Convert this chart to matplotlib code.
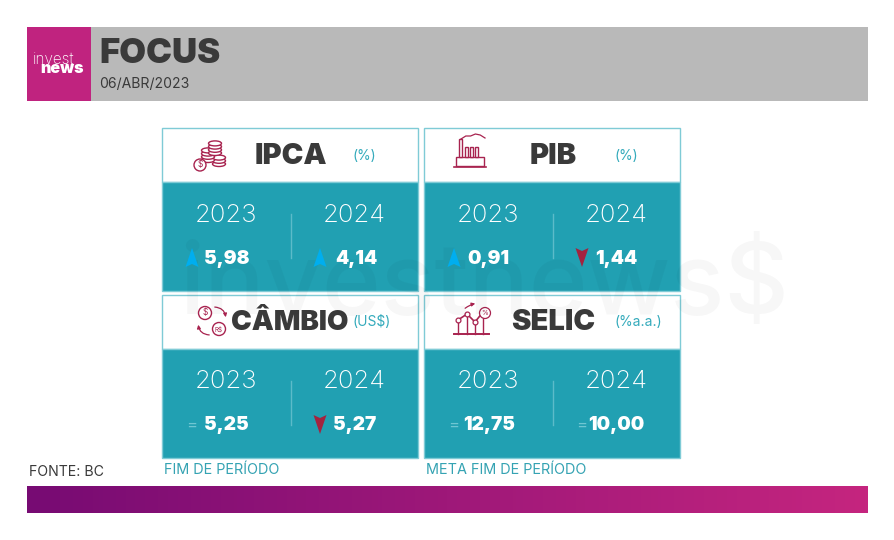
import numpy as np
import matplotlib
matplotlib.use("Agg")
import matplotlib.pyplot as plt
from matplotlib.colors import LinearSegmentedColormap
from matplotlib.patches import Rectangle, Polygon, Circle, Ellipse, FancyArrowPatch

titles = ["IPCA", "PIB", "CÂMBIO", "SELIC"]
units = ["(%)", "(%)", "(US$)", "(%a.a.)"]
years = ["2023", "2024"]
values = [["5,98", "4,14"], ["0,91", "1,44"], ["5,25", "5,27"], ["12,75", "10,00"]]
trends = [["up", "up"], ["up", "down"], ["same", "down"], ["same", "same"]]
notes = ["FIM DE PERÍODO", "META FIM DE PERÍODO"]

TEAL = "#21A0B2"
EDGE = "#7FCBD6"
WINE = "#A8234F"
DARK = "#3A3A3A"
FONT = "Inter"

# card layout: left, top, title x, title size, unit x, icon x, trend x, value x
cards = [
    (162, 128, 291, 21, 364, 209, (192, 320), (204, 335)),
    (424, 128, 553, 21, 626, 470, (454, 582), (467, 595)),
    (162, 295, 290, 20, 372, 212, (192, 320), (204, 333)),
    (424, 295, 553, 21, 638, 472, (454, 582), (463, 588)),
]
CARD_W, CARD_H, HEAD_H = 256.5, 163, 54

fig = plt.figure(figsize=(8.95, 5.4), dpi=100)
ax = fig.add_axes([0, 0, 1, 1])


def coins(x, y):
    y += 3
    for cx, cy, n in [(x + 10, y + 7, 3), (x - 1, y + 3, 4), (x + 6, y - 4, 4)]:
        for i in range(n):
            ax.add_patch(Ellipse((cx, cy - i * 3.2), 13, 5, fc="white", ec=WINE, lw=1, zorder=3))
    ax.add_patch(Circle((x - 9, y + 8), 6, fc="white", ec=WINE, lw=1, zorder=4))
    ax.text(x - 9, y + 8, "$", color=WINE, fontsize=6, ha="center", va="center", family=FONT, zorder=5)


def factory(x, y):
    ax.add_patch(Rectangle((x - 14, y + 3), 28, 9, fc="white", ec=WINE, lw=1, zorder=3))
    ax.plot([x - 16, x + 16], [y + 12.5, y + 12.5], color=WINE, lw=1.2, zorder=4)
    for sx, h in [(x - 11, 18), (x - 5, 10), (x, 10), (x + 5, 10)]:
        ax.add_patch(Rectangle((sx, y + 3 - h), 3, h, fc="white", ec=WINE, lw=1, zorder=3))
    t = np.linspace(0, 1, 6)
    ax.plot(x - 9 + t * 24, y - 15 - np.array([0, 3, 3, 5, 4, 1]), color=WINE, lw=0.9, zorder=3)


def exchange(x, y):
    ax.add_patch(Circle((x - 7, y - 8), 6.5, fc="white", ec=WINE, lw=1, zorder=3))
    ax.add_patch(Circle((x + 7, y + 8), 6.5, fc="white", ec=WINE, lw=1, zorder=3))
    ax.text(x - 7, y - 8, "$", color=WINE, fontsize=6, ha="center", va="center", family=FONT, zorder=4)
    ax.text(x + 7, y + 8, "R$", color=WINE, fontsize=4.5, ha="center", va="center", family=FONT, zorder=4)
    ax.add_patch(FancyArrowPatch((x, y - 14), (x + 14, y - 1), connectionstyle="arc3,rad=-0.5",
                                 arrowstyle="-|>", mutation_scale=5, color=WINE, lw=0.9, zorder=3))
    ax.add_patch(FancyArrowPatch((x, y + 14), (x - 14, y + 1), connectionstyle="arc3,rad=-0.5",
                                 arrowstyle="-|>", mutation_scale=5, color=WINE, lw=0.9, zorder=3))


def growth(x, y):
    ax.plot([x - 18, x + 17], [y + 13, y + 13], color=WINE, lw=1.4, zorder=3)
    px = np.array([-14, -5, 3, 11]) + x
    py = np.array([-1, -7, 1, -9]) + y
    for a, b in zip(px, py):
        ax.plot([a, a], [b, y + 13], color=WINE, lw=1, zorder=3)
    ax.plot(px, py, color=WINE, lw=1.2, marker="o", ms=3.5, mfc="white", mew=0.9, zorder=4)
    ax.add_patch(FancyArrowPatch((x - 9, y - 11), (x + 6, y - 18), connectionstyle="arc3,rad=-0.15",
                                 arrowstyle="-|>", mutation_scale=5, color=WINE, lw=0.9, zorder=3))
    ax.add_patch(Circle((x + 13, y - 8), 5.5, fc="white", ec=WINE, lw=0.9, zorder=5))
    ax.text(x + 13, y - 8, "%", color=WINE, fontsize=5, ha="center", va="center", family=FONT, zorder=6)


icons = [coins, factory, exchange, growth]

# header
ax.add_patch(Rectangle((91, 27), 777, 74, fc="#B9B9B9", ec="none"))
ax.add_patch(Rectangle((27, 27), 64, 74, fc="#C0237F", ec="none"))
ax.text(54, 59.5, "invest", color="white", fontsize=11, family=FONT, weight="light", ha="center", va="center")
ax.text(62.5, 68.5, "news", color="white", fontsize=11.5, family=FONT, weight="black", ha="center", va="center")
ax.text(99, 54, "FOCUS", color=DARK, fontsize=25, family=FONT, weight="black", ha="left", va="center")
ax.text(99, 84, "06/ABR/2023", color=DARK, fontsize=10.1, family=FONT, ha="left", va="center")

for i, (left, top, tx, tsize, ux, ix, trend_x, value_x) in enumerate(cards):
    ax.add_patch(Rectangle((left, top), CARD_W, HEAD_H, fc="white", ec=EDGE, lw=1, zorder=2))
    ax.add_patch(Rectangle((left, top + HEAD_H), CARD_W, CARD_H - HEAD_H, fc=TEAL, ec=EDGE, lw=1, zorder=2))
    icons[i](ix, top + 26)
    ax.text(tx, top + 28, titles[i], color=DARK, fontsize=tsize, family=FONT, weight="black",
            ha="center", va="center", zorder=3)
    ax.text(ux, top + 27.5, units[i], color="#35ABBC", fontsize=10, family=FONT, ha="center", va="center", zorder=3)
    ax.plot([left + 129, left + 129], [top + 86, top + 130], color="#5CBBC9", lw=1, zorder=3)
    for j in range(2):
        cx = left + 64.5 + j * 127.5
        ax.text(cx, top + 87, years[j], color="white", fontsize=18.5, family=FONT, weight="light",
                ha="center", va="center", zorder=7)
        ax.text(value_x[j], top + 130.5, values[i][j], color="white", fontsize=13.7, family=FONT, weight="black",
                ha="left", va="center", zorder=7)
        tr = trend_x[j]
        if trends[i][j] == "up":
            ax.add_patch(Polygon([(tr - 6.5, top + 139), (tr, top + 120), (tr + 6.5, top + 139), (tr, top + 136)],
                                 fc="#00AEEF", ec="none", zorder=7))
        elif trends[i][j] == "down":
            ax.add_patch(Polygon([(tr - 6.5, top + 120), (tr, top + 123), (tr + 6.5, top + 120), (tr, top + 139)],
                                 fc="#A3233F", ec="none", zorder=7))
        else:
            ax.text(tr - 0.5, top + 130, "=", color="#6FC6D2", fontsize=12, family=FONT, ha="center", va="center", zorder=7)

# watermark over the cards
ax.text(484, 314, "investnews$", color="black", alpha=0.03, fontsize=72, family=FONT, weight="medium",
        ha="center", va="baseline", zorder=6)

# footer
ax.text(29, 472, "FONTE: BC", color=DARK, fontsize=10.2, family=FONT, ha="left", va="center")
ax.text(164, 469.5, notes[0], color="#35A3B3", fontsize=10.4, family=FONT, ha="left", va="center")
ax.text(426, 469.5, notes[1], color="#35A3B3", fontsize=10.4, family=FONT, ha="left", va="center")
cmap = LinearSegmentedColormap.from_list("band", ["#770B73", "#C5257F"])
ax.imshow(np.linspace(0, 1, 256).reshape(1, -1), extent=(27, 868, 513, 486), cmap=cmap, aspect="auto")

ax.set_xlim(0, 895)
ax.set_ylim(540, 0)
ax.axis("off")
fig.savefig("out.png", dpi=100)
